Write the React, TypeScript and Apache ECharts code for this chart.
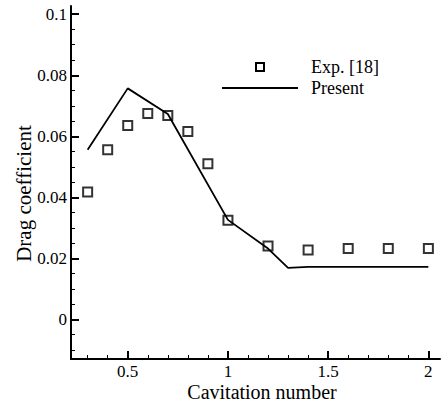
import React, { useEffect, useRef } from "react";
import * as echarts from "echarts";

// ---- data ----
const expX = [0.3, 0.4, 0.5, 0.6, 0.7, 0.8, 0.9, 1.0, 1.2, 1.4, 1.6, 1.8, 2.0];
const expY = [0.0417, 0.0556, 0.0635, 0.0675, 0.0668, 0.0616, 0.051, 0.0325, 0.024, 0.0227, 0.0232, 0.0232, 0.0232];
const presentX = [0.3, 0.5, 0.7, 1.0, 1.2, 1.3, 1.4, 2.0];
const presentY = [0.0556, 0.0757, 0.0673, 0.0326, 0.0232, 0.0169, 0.0172, 0.0172];
const xMajorTicks = [0.5, 1, 1.5, 2];
const xMinorTicks = [0.3, 0.4, 0.6, 0.7, 0.8, 0.9, 1.1, 1.2, 1.3, 1.4, 1.6, 1.7, 1.8, 1.9];
const yMajorTicks = [0, 0.02, 0.04, 0.06, 0.08, 0.1];
const yMinorTicks = [-0.01, -0.005, 0.005, 0.01, 0.015, 0.025, 0.03, 0.035, 0.045, 0.05, 0.055, 0.065, 0.07, 0.075, 0.085, 0.09, 0.095];
const xTitle = "Cavitation number";
const yTitle = "Drag coefficient";
const seriesNames = ["Exp. [18]", "Present"];

const FONT = "Liberation Serif";

export default function App() {
  const ref = useRef<HTMLDivElement>(null);
  useEffect(() => {
    if (!ref.current) return;
    const chart = echarts.init(ref.current, undefined, { renderer: "svg" });
    const xMin = 0.217, xMax = 2.058, yMin = -0.013, yMax = 0.1027;
    const axisLine = { show: true, onZero: false, lineStyle: { color: "#000", width: 2 } };
    chart.setOption({
      animation: false,
      backgroundColor: "#fff",
      grid: { left: 71, top: 6, width: 369, height: 353, containLabel: false, outerBoundsMode: "none" },
      xAxis: [
        {
          type: "value", min: xMin, max: xMax,
          axisLine,
          splitLine: { show: false },
          axisTick: { inside: true, length: 8, customValues: xMajorTicks, lineStyle: { color: "#000", width: 2 } },
          axisLabel: { customValues: xMajorTicks, margin: 4, color: "#000", fontFamily: FONT, fontSize: 17, lineHeight: 16 },
          name: xTitle, nameLocation: "middle", nameGap: 24, nameMoveOverlap: false,
          nameTextStyle: { color: "#000", fontFamily: FONT, fontSize: 20, lineHeight: 18, padding: [0, 0, 0, 13] },
        },
        {
          type: "value", min: xMin, max: xMax, position: "bottom",
          axisLine: { show: false, onZero: false },
          splitLine: { show: false },
          axisTick: { inside: true, length: 4, customValues: xMinorTicks, lineStyle: { color: "#000", width: 1 } },
          axisLabel: { show: false },
        },
      ],
      yAxis: [
        {
          type: "value", min: yMin, max: yMax,
          axisLine,
          splitLine: { show: false },
          axisTick: { inside: true, length: 8, customValues: yMajorTicks, lineStyle: { color: "#000", width: 2 } },
          axisLabel: { customValues: yMajorTicks, margin: 4, color: "#000", fontFamily: FONT, fontSize: 17 },
          name: yTitle, nameLocation: "middle", nameGap: 37, nameMoveOverlap: false,
          nameTextStyle: { color: "#000", fontFamily: FONT, fontSize: 21, padding: [0, 22, 0, 0] },
        },
        {
          type: "value", min: yMin, max: yMax, position: "left",
          axisLine: { show: false, onZero: false },
          splitLine: { show: false },
          axisTick: { inside: true, length: 4, customValues: yMinorTicks, lineStyle: { color: "#000", width: 1 } },
          axisLabel: { show: false },
        },
      ],
      series: [
        {
          name: seriesNames[1], type: "line", xAxisIndex: 0, yAxisIndex: 0,
          data: presentX.map((x, i) => [x, presentY[i]]),
          symbol: "none", lineStyle: { color: "#000", width: 1.8 }, z: 2,
        },
        {
          name: seriesNames[0], type: "scatter", xAxisIndex: 0, yAxisIndex: 0,
          data: expX.map((x, i) => [x, expY[i]]),
          symbol: "rect", symbolSize: 9,
          itemStyle: { color: "rgba(0,0,0,0)", borderColor: "#000", borderWidth: 2 }, z: 3,
        },
      ],
      graphic: [
        { type: "rect", shape: { x: 256, y: 63, width: 8, height: 8 }, style: { fill: "none", stroke: "#000", lineWidth: 2 } },
        { type: "text", x: 311, y: 67, style: { text: seriesNames[0], fill: "#000", fontFamily: FONT, fontSize: 18, verticalAlign: "middle" } },
        { type: "line", shape: { x1: 222, y1: 88, x2: 298, y2: 88 }, style: { stroke: "#000", lineWidth: 2 } },
        { type: "text", x: 311, y: 88, style: { text: seriesNames[1], fill: "#000", fontFamily: FONT, fontSize: 18, verticalAlign: "middle" } },
      ],
    });
    return () => chart.dispose();
  }, []);
  return <div ref={ref} style={{ position: "absolute", left: 0, top: 0, width: 441, height: 403 }} />;
}
